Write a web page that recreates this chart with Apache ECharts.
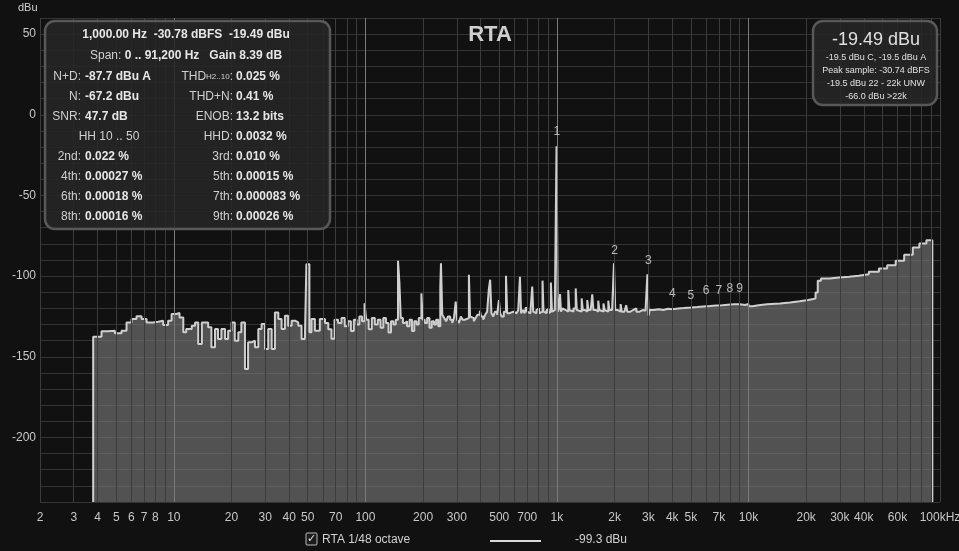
<!DOCTYPE html>
<html><head><meta charset="utf-8">
<script src="https://cdn.jsdelivr.net/npm/echarts@6/dist/echarts.min.js"></script>
<style>html,body{margin:0;padding:0;background:#111111;}#c{width:959px;height:551px;}</style>
</head><body><div id="c"></div>
<script>
// Spectrum (frequency in Hz, level in dBu); each level holds from its frequency to the next
const freqs = [3.79,3.79,4.19,4.54,4.92,5.33,5.66,6.01,6.38,6.78,7.20,7.80,8.28,8.79,9.33,9.73,10.3,10.7,11.2,11.6,12.4,12.9,13.4,14.0,14.5,15.1,15.7,16.4,17.0,17.7,18.5,19.2,20.0,20.8,21.7,22.5,23.5,24.4,25.5,26.5,27.6,28.7,29.9,31.1,32.4,33.7,35.1,36.5,38.0,39.5,41.2,42.9,44.6,46.4,48.3,49.2,51.0,52.3,54.5,57.8,
61.5,64,66.5,69,72,75,78,81,84,87,90,93,96,99,101,104,108,112,116,120,124,128,132,136,140,144,148,150.5,153,157,161,165,170,175,180,185,190,196,199,204,210,216,222,228,234,240,246,248,252,258,264,270,277,284,290,296,301,308,315,322,330,338,347,352,360,368,376,385,396,402,412,422,432,441,448,455,465,475,487,498,505,515,528,542,550,565,578,592,600,615,628,641,650,665,678,689,697,712,728,743,752,768,782,798,808,825,841,851,870,882,894,905,918,930,942,958,975,988,995,1010,1025,1038,1050,1070,1090,1110,1146,1162,1190,1220,1253,1270,1300,1346,1365,1400,1440,1460,1500,1529,1550,1600,1643,1665,1700,1750,1775,1810,1854,1880,1940,1985,2015,2080,2150,2180,2250,2300,2330,2420,2500,2600,2700,2800,2900,2967,3010,3050,3200,3400,3600,3800,4000,4300,4600,5000,5400,5800,6300,6800,7300,7800,8400,9030,9600,10000,10500,11300,12500,14600,16500,18500,20500,21800,22400,23000,23900,26500,29700,33500,37600,42500,48000,53000,58700,65000,72100,78000,84900,91200,91200];
const levels = [-240,-137.5,-134.2,-133.8,-135.4,-133.8,-128.7,-126.6,-124.9,-126.6,-128.7,-128.3,-127.6,-130.3,-127.6,-123.5,-122.9,-125.6,-134.8,-132.8,-130.7,-128.7,-142,-128.7,-128.7,-131.7,-144.1,-132.8,-138.9,-132.8,-138.9,-133.8,-128.7,-140,-134.8,-128.7,-157.5,-141,-140,-144.1,-132.8,-129.7,-145.1,-132.8,-145.1,-122.5,-126.6,-132.8,-124.5,-130.7,-127.6,-128.7,-130.7,-138.9,-139,-92.6,-134.8,-126.6,-133.8,-126.6,
-129,-133,-138.8,-127,-129,-126,-131,-128,-134,-127,-130,-125,-128,-116.8,-127,-133,-126,-130,-127,-132,-126,-129,-135,-128,-130,-127,-90.5,-104,-126,-129,-128,-131,-127,-134,-128,-130,-126,-110.7,-127,-129,-126,-132,-128,-130,-127,-131,-107,-92.1,-124,-126,-128,-125,-127,-129,-126,-115.8,-127,-129,-125,-127,-128,-126,-99.1,-125,-126,-128,-126,-124,-121.4,-125,-127,-124,-122,-108,-102.2,-123,-125,-122,-124,-114.8,-123,-125,-122,-99.8,-123,-124,-122,-121.4,-123,-122,-121,-100.4,-123,-121,-123,-119.3,-122,-123,-121,-106.5,-122,-123,-121,-120,-123,-122,-102.8,-122,-123,-121,-120.3,-123,-122,-103.9,-122,-121,-122,-120,-19.5,-122,-120,-111.1,-122,-120,-121,-122,-108.6,-121,-122,-120,-107.6,-121,-122,-113.8,-121,-122,-114.8,-121,-122,-111.3,-121,-122,-115.2,-121,-122,-116.9,-121,-122,-115.2,-121,-122,-92,-121,-122,-117.3,-122,-121,-118,-122,-121,-120,-122,-121,-121.5,-120.5,-98.8,-124.5,-121,-120.5,-121,-120.2,-120.5,-120,-119.8,-119.5,-119.2,-118.8,-118.5,-118.2,-118,-117.7,-117.5,-117.5,-117.9,-117.2,-118.7,-118,-117.5,-117,-116.3,-115.6,-114.8,-114.2,-113.8,-110.1,-102.9,-101.4,-100.9,-100.4,-99.7,-98.8,-97.3,-95.3,-93.2,-90.5,-86.8,-82.3,-79.8,-77.8,-76.8,-240];
// Harmonic markers
const harmNames = ['1','2','3','4','5','6','7','8','9'];
const harmFreqs = [1000,2000,3000,4000,5000,6000,7000,8000,9000];
const harmLabelLevels = [-10.5,-84,-90.5,-111,-112,-109,-109,-108,-108];
// Axis tick labels
const xTicks = [2,3,4,5,6,7,8,10,20,30,40,50,70,100,200,300,500,700,1000,2000,3000,4000,5000,7000,10000,20000,30000,40000,60000,100000];
const xTickText = ['2','3','4','5','6','7','8','10','20','30','40','50','70','100','200','300','500','700','1k','2k','3k','4k','5k','7k','10k','20k','30k','40k','60k','100kHz'];
const majorGrid = [10,100,1000,10000];
const minorGrid = [2,3,4,5,6,7,8,9,20,30,40,50,60,70,80,90,200,300,400,500,600,700,800,900,2000,3000,4000,5000,6000,7000,8000,9000,20000,30000,40000,50000,60000,70000,80000,90000,100000];

const FONT = "'Liberation Sans Narrow','Liberation Sans',sans-serif";
const chart = echarts.init(document.getElementById('c'));
const data = freqs.map((f,i)=>[f,levels[i]]);

function txt(x,y,rich,align){
  return {type:'text',x:x,y:y,style:{text:rich,align:align||'left',verticalAlign:'middle',fill:'#d8d8d8',font:"12px "+FONT,
    rich:{b:{fontWeight:'bold',fontSize:12,fill:'#e6e6e6',fontFamily:FONT},n:{fontSize:12,fill:'#d0d0d0',fontFamily:FONT},s:{fontSize:8,fill:'#d0d0d0',fontFamily:FONT}}},z:100};
}
const leftRows = [
  ['N+D:','-87.7 dBu A','{n|THD}{s|H2..10}{n|:}','0.025 %'],
  ['N:','-67.2 dBu','{n|THD+N:}','0.41 %'],
  ['SNR:','47.7 dB','{n|ENOB:}','13.2 bits'],
  [null,null,'{n|HHD:}','0.0032 %'],
  ['2nd:','0.022 %','{n|3rd:}','0.010 %'],
  ['4th:','0.00027 %','{n|5th:}','0.00015 %'],
  ['6th:','0.00018 %','{n|7th:}','0.000083 %'],
  ['8th:','0.00016 %','{n|9th:}','0.00026 %']
];
const g = [
  {type:'rect',shape:{x:45,y:21,width:285,height:208,r:10},style:{fill:'rgba(38,38,38,0.88)',stroke:'#585858',lineWidth:2.5},z:90},
  txt(186,35,'{b|1,000.00 Hz  -30.78 dBFS  -19.49 dBu}','center'),
  txt(186,56,'{n|Span: }{b|0 .. 91,200 Hz   Gain 8.39 dB}','center'),
  txt(109,137,'{n|HH 10 .. 50}','center'),
  {type:'rect',shape:{x:813,y:21,width:124,height:84,r:10},style:{fill:'rgba(38,38,38,0.88)',stroke:'#585858',lineWidth:2.5},z:90},
  {type:'text',x:876,y:40,style:{text:'-19.49 dBu',align:'center',verticalAlign:'middle',fill:'#e0e0e0',font:"18px "+FONT},z:100},
  {type:'text',x:876,y:58,style:{text:'-19.5 dBu C, -19.5 dBu A',align:'center',verticalAlign:'middle',fill:'#e0e0e0',font:"9px "+FONT},z:100},
  {type:'text',x:876,y:71,style:{text:'Peak sample: -30.74 dBFS',align:'center',verticalAlign:'middle',fill:'#e0e0e0',font:"9px "+FONT},z:100},
  {type:'text',x:876,y:84,style:{text:'-19.5 dBu 22 - 22k UNW',align:'center',verticalAlign:'middle',fill:'#e0e0e0',font:"9px "+FONT},z:100},
  {type:'text',x:876,y:97,style:{text:'-66.0 dBu >22k',align:'center',verticalAlign:'middle',fill:'#e0e0e0',font:"9px "+FONT},z:100},
  {type:'text',x:490,y:35,style:{text:'RTA',align:'center',verticalAlign:'middle',fill:'#cfcfcf',font:"bold 22px "+FONT},z:100},
  {type:'text',x:18,y:8,style:{text:'dBu',align:'left',verticalAlign:'middle',fill:'#d0d0d0',font:"11px "+FONT},z:100},
  {type:'rect',shape:{x:306,y:533,width:11,height:12,r:1},style:{fill:'#1c1c1c',stroke:'#bbbbbb',lineWidth:1},z:100},
  {type:'text',x:311.5,y:539,style:{text:'✓',align:'center',verticalAlign:'middle',fill:'#e0e0e0',font:"11px 'DejaVu Sans'"},z:101},
  {type:'text',x:322,y:540,style:{text:'RTA 1/48 octave',align:'left',verticalAlign:'middle',fill:'#d0d0d0',font:"12px "+FONT},z:100},
  {type:'line',shape:{x1:490,y1:541,x2:541,y2:541},style:{stroke:'#d8d8d8',lineWidth:2},z:100},
  {type:'text',x:575,y:540,style:{text:'-99.3 dBu',align:'left',verticalAlign:'middle',fill:'#d0d0d0',font:"12px "+FONT},z:100}
];
leftRows.forEach((r,i)=>{
  const y = 77 + i*20;
  if(r[0]){g.push(txt(81,y,'{n|'+r[0]+'}','right')); g.push(txt(85,y,'{b|'+r[1]+'}','left'));}
  g.push(txt(233,y,r[2],'right')); g.push(txt(236,y,'{b|'+r[3]+'}','left'));
});

chart.setOption({
  backgroundColor:'#111111',
  animation:false,
  grid:{left:40,right:19,top:18,bottom:49,outerBoundsMode:'none'},
  xAxis:{type:'log',logBase:10,min:2,max:100000,
    axisLine:{show:false},axisTick:{show:false},splitLine:{show:false},minorSplitLine:{show:false},
    axisLabel:{customValues:xTicks,color:'#c8c8c8',fontSize:12,fontFamily:FONT,margin:10,
      formatter:v=>{const i=xTicks.findIndex(t=>Math.abs(t-v)/t<1e-6);return i>=0?xTickText[i]:'';}}},
  yAxis:{type:'value',min:-240,max:60,interval:10,
    axisLine:{show:false},axisTick:{show:false},
    splitLine:{show:true,lineStyle:{color:'#343434',width:1}},
    axisLabel:{color:'#c8c8c8',fontSize:12,fontFamily:FONT,margin:4,formatter:v=>(v%50===0?String(v):'')}},
  graphic:g,
  series:[
    {type:'line',data:[[2,-240]],symbol:'none',lineStyle:{opacity:0},z:1,silent:true,
      markLine:{silent:true,symbol:'none',label:{show:false},animation:false,
        data:minorGrid.map(f=>({xAxis:f,lineStyle:{color:'#3c3c3c',width:1,type:'solid'}}))
          .concat(majorGrid.map(f=>({xAxis:f,lineStyle:{color:'#7a7a7a',width:1,type:'solid'}})))}},
    {type:'line',data:data,step:'end',symbol:'none',z:3,
      lineStyle:{color:'#cfcfcf',width:2},
      areaStyle:{color:'rgba(118,118,118,0.93)',origin:'start'}},
    {type:'scatter',data:harmFreqs.map((f,i)=>[f,harmLabelLevels[i],harmNames[i]]),symbolSize:0,z:5,
      label:{show:true,position:'inside',formatter:p=>p.data[2],color:'#e0e0e0',fontSize:12,fontFamily:FONT}}
  ]
});
</script></body></html>
